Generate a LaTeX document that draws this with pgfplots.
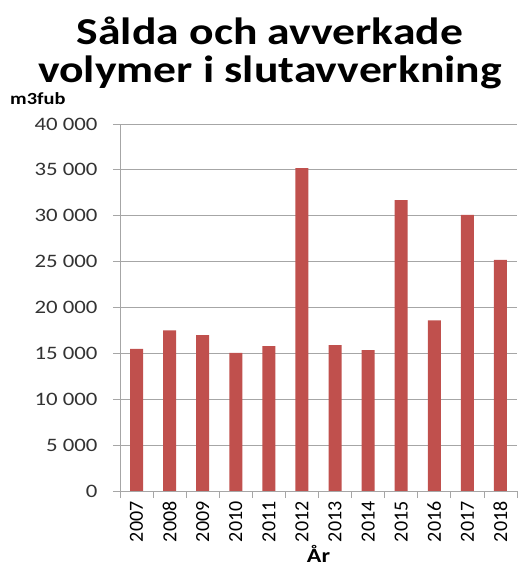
\documentclass[border=0pt]{standalone}
\usepackage{fontspec}
\setmainfont{Carlito}[FakeStretch=1.2]
\newfontfamily\yearfont{Carlito}
\usepackage{pgfplots}
\pgfplotsset{compat=1.18}
\definecolor{barred}{HTML}{C0504D}
\definecolor{gridgray}{HTML}{A6A6A6}
\begin{document}
\begin{tikzpicture}
\useasboundingbox (-120pt,-81pt) rectangle (397pt,491pt);
\begin{axis}[
  at={(0,0)}, anchor=south west,
  scale only axis, width=397pt, height=367pt,
  xmin=-0.5, xmax=11.5, ymin=0, ymax=40000,
  axis x line*=bottom, axis y line*=left,
  axis line style={gridgray, line width=0.8pt},
  scaled y ticks=false,
  ytick={0,5000,...,40000},
  yticklabels={0,5 000,10 000,15 000,20 000,25 000,30 000,35 000,40 000},
  yticklabel style={font=\fontsize{19}{19}\selectfont, color=black!80, anchor=east, xshift=-12pt},
  ymajorgrids, grid style={gridgray, line width=0.8pt},
  ytick style={gridgray, line width=0.8pt},
  tick align=outside, major tick length=7pt,
  xtick={0,...,11},
  xticklabels={2007,2008,2009,2010,2011,2012,2013,2014,2015,2016,2017,2018},
  xtick style={draw=none},
  xticklabel style={rotate=90, anchor=east, font=\yearfont\fontsize{20}{20}\selectfont, xshift=0pt},
  extra x ticks={-0.5,0.5,...,11.5},
  extra x tick labels={},
  extra x tick style={grid=none, xtick style={draw=gridgray, line width=0.8pt}, major tick length=7pt},
  xlabel={\bfseries År}, xlabel style={font=\fontsize{20}{20}\selectfont, at={(axis description cs:0.5,0)}, anchor=base, yshift=-71pt},
  clip=false,
]
\addplot[ybar, bar width=13pt, fill=barred, draw=none] coordinates {
(0,15500) (1,17500) (2,17000) (3,15050) (4,15800) (5,35200)
(6,15900) (7,15350) (8,31700) (9,18600) (10,30100) (11,25200)};
\end{axis}
\node[anchor=base, font=\bfseries\fontsize{38}{38}\selectfont] at (150pt,446pt) {Sålda och avverkade};
\node[anchor=base, font=\bfseries\fontsize{38}{38}\selectfont] at (150pt,408pt) {volymer i slutavverkning};
\node[anchor=base west, inner sep=0pt, font=\bfseries\fontsize{17}{17}\selectfont] at (-110pt,386pt) {m3fub};
\end{tikzpicture}
\end{document}
